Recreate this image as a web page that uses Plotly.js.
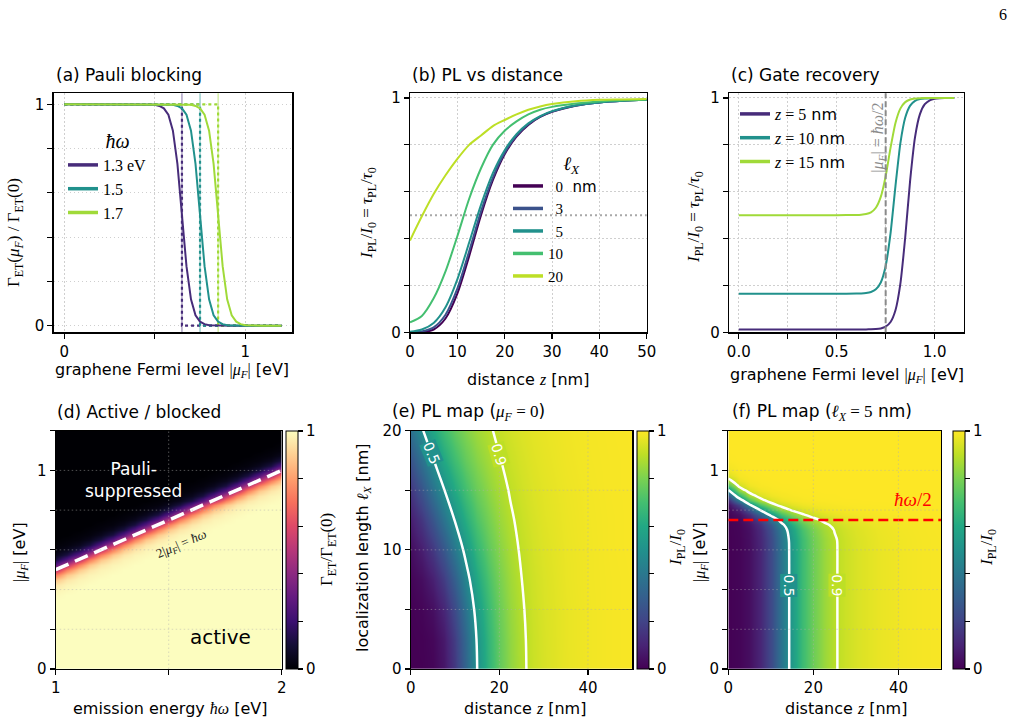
<!DOCTYPE html>
<html><head><meta charset="utf-8">
<script src="https://cdn.plot.ly/plotly-3.0.1.min.js"></script>
<style>html,body{margin:0;padding:0;background:#fff}#chart{width:1015px;height:724px}</style>
</head><body><div id="chart"></div>
<script>
// ================= DATA =================
// (a) Pauli blocking: Gamma_ET(mu_F)/Gamma_ET(0)
const hwA = [1.3, 1.5, 1.7];
const hwLabelsA = ['1.3 eV', '1.5', '1.7'];
const muA = [0, 0.1, 0.2, 0.3, 0.4, 0.45, 0.5, 0.525, 0.55, 0.575, 0.6, 0.625, 0.65, 0.675, 0.7, 0.725, 0.75, 0.775, 0.8, 0.825, 0.85, 0.875, 0.9, 0.925, 0.95, 0.975, 1.0, 1.05, 1.1, 1.2];
const gamma13 = [1,1,1,1,1,1,0.998,0.993,0.982,0.953,0.881,0.731,0.5,0.269,0.119,0.047,0.018,0.007,0.002,0.001,0,0,0,0,0,0,0,0,0,0];
const gamma15 = [1,1,1,1,1,1,1,1,1,0.999,0.998,0.993,0.982,0.953,0.881,0.731,0.5,0.269,0.119,0.047,0.018,0.007,0.002,0.001,0,0,0,0,0,0];
const gamma17 = [1,1,1,1,1,1,1,1,1,1,1,1,1,0.999,0.998,0.993,0.982,0.953,0.881,0.731,0.5,0.269,0.119,0.047,0.018,0.007,0.002,0,0,0];

// (b) PL vs distance for several localization lengths
const zB = [0, 2.5, 5, 7.5, 10, 12.5, 15, 17.5, 20, 22.5, 25, 27.5, 30, 35, 40, 45, 50];
const lxB = ['0', '3', '5', '10', '20'];
const plB_0  = [0, 0.001, 0.012, 0.059, 0.165, 0.325, 0.5, 0.649, 0.76, 0.835, 0.885, 0.919, 0.941, 0.967, 0.981, 0.988, 0.992];
const plB_3  = [0, 0.004, 0.021, 0.075, 0.186, 0.346, 0.516, 0.66, 0.766, 0.839, 0.888, 0.92, 0.942, 0.968, 0.981, 0.988, 0.992];
const plB_5  = [0.002, 0.012, 0.04, 0.107, 0.226, 0.383, 0.544, 0.679, 0.777, 0.846, 0.892, 0.923, 0.944, 0.968, 0.981, 0.988, 0.992];
const plB_10 = [0.043, 0.07, 0.145, 0.26, 0.41, 0.57, 0.7, 0.8, 0.86, 0.9, 0.93, 0.95, 0.962, 0.976, 0.985, 0.99, 0.993];
const plB_20 = [0.392, 0.495, 0.59, 0.67, 0.74, 0.8, 0.84, 0.88, 0.906, 0.93, 0.95, 0.964, 0.974, 0.986, 0.992, 0.994, 0.996];
const halfLevelB = 0.5;

// (c) Gate recovery
const zC = [5, 10, 15];
const muC = [0, 0.1, 0.2, 0.3, 0.4, 0.5, 0.6, 0.625, 0.65, 0.675, 0.7, 0.725, 0.75, 0.775, 0.8, 0.825, 0.85, 0.875, 0.9, 0.925, 0.95, 0.975, 1.0, 1.025, 1.05, 1.1];
const plC_5  = [0.0122,0.0122,0.0122,0.0122,0.0122,0.0122,0.0122,0.0123,0.0124,0.0128,0.0138,0.0166,0.0241,0.0439,0.094,0.2066,0.4068,0.6486,0.8333,0.9313,0.9736,0.9901,0.9963,0.9986,0.9995,1.0];
const plC_10 = [0.1649,0.1649,0.1649,0.1649,0.1649,0.1649,0.1653,0.1659,0.1675,0.1718,0.1832,0.2127,0.2832,0.4234,0.6241,0.8065,0.9165,0.9672,0.9877,0.9954,0.9983,0.9994,0.9998,0.9999,1.0,1.0];
const plC_15 = [0.5,0.5,0.5,0.5,0.5,0.5,0.5006,0.5017,0.5045,0.5121,0.5316,0.5777,0.6667,0.788,0.8937,0.9547,0.9823,0.9934,0.9975,0.9991,0.9997,0.9999,1.0,1.0,1.0,1.0];
const hwC = 1.5;

// (d) Active / blocked map: Gamma_ET/Gamma_ET(0) vs hbar*omega (cols) and |mu_F| (rows)
const hwD = [1,1.05,1.1,1.15,1.2,1.25,1.3,1.35,1.4,1.45,1.5,1.55,1.6,1.65,1.7,1.75,1.8,1.85,1.9,1.95,2];
const muD = [0,0.025,0.05,0.075,0.1,0.125,0.15,0.175,0.2,0.225,0.25,0.275,0.3,0.325,0.35,0.375,0.4,0.425,0.45,0.475,0.5,0.525,0.55,0.575,0.6,0.625,0.65,0.675,0.7,0.725,0.75,0.775,0.8,0.825,0.85,0.875,0.9,0.925,0.95,0.975,1,1.025,1.05,1.075,1.1,1.125,1.15,1.175,1.2];
const gammaD = [
[1,1,1,1,1,1,1,1,1,1,1,1,1,1,1,1,1,1,1,1,1],
[1,1,1,1,1,1,1,1,1,1,1,1,1,1,1,1,1,1,1,1,1],
[1,1,1,1,1,1,1,1,1,1,1,1,1,1,1,1,1,1,1,1,1],
[1,1,1,1,1,1,1,1,1,1,1,1,1,1,1,1,1,1,1,1,1],
[1,1,1,1,1,1,1,1,1,1,1,1,1,1,1,1,1,1,1,1,1],
[1,1,1,1,1,1,1,1,1,1,1,1,1,1,1,1,1,1,1,1,1],
[1,1,1,1,1,1,1,1,1,1,1,1,1,1,1,1,1,1,1,1,1],
[1,1,1,1,1,1,1,1,1,1,1,1,1,1,1,1,1,1,1,1,1],
[1,1,1,1,1,1,1,1,1,1,1,1,1,1,1,1,1,1,1,1,1],
[1,1,1,1,1,1,1,1,1,1,1,1,1,1,1,1,1,1,1,1,1],
[1,1,1,1,1,1,1,1,1,1,1,1,1,1,1,1,1,1,1,1,1],
[1,1,1,1,1,1,1,1,1,1,1,1,1,1,1,1,1,1,1,1,1],
[1,1,1,1,1,1,1,1,1,1,1,1,1,1,1,1,1,1,1,1,1],
[1,1,1,1,1,1,1,1,1,1,1,1,1,1,1,1,1,1,1,1,1],
[1,1,1,1,1,1,1,1,1,1,1,1,1,1,1,1,1,1,1,1,1],
[0.99,1,1,1,1,1,1,1,1,1,1,1,1,1,1,1,1,1,1,1,1],
[0.98,0.99,1,1,1,1,1,1,1,1,1,1,1,1,1,1,1,1,1,1,1],
[0.95,0.98,0.99,1,1,1,1,1,1,1,1,1,1,1,1,1,1,1,1,1,1],
[0.88,0.95,0.98,0.99,1,1,1,1,1,1,1,1,1,1,1,1,1,1,1,1,1],
[0.73,0.88,0.95,0.98,0.99,1,1,1,1,1,1,1,1,1,1,1,1,1,1,1,1],
[0.5,0.73,0.88,0.95,0.98,0.99,1,1,1,1,1,1,1,1,1,1,1,1,1,1,1],
[0.27,0.5,0.73,0.88,0.95,0.98,0.99,1,1,1,1,1,1,1,1,1,1,1,1,1,1],
[0.12,0.27,0.5,0.73,0.88,0.95,0.98,0.99,1,1,1,1,1,1,1,1,1,1,1,1,1],
[0.05,0.12,0.27,0.5,0.73,0.88,0.95,0.98,0.99,1,1,1,1,1,1,1,1,1,1,1,1],
[0.02,0.05,0.12,0.27,0.5,0.73,0.88,0.95,0.98,0.99,1,1,1,1,1,1,1,1,1,1,1],
[0.01,0.02,0.05,0.12,0.27,0.5,0.73,0.88,0.95,0.98,0.99,1,1,1,1,1,1,1,1,1,1],
[0,0.01,0.02,0.05,0.12,0.27,0.5,0.73,0.88,0.95,0.98,0.99,1,1,1,1,1,1,1,1,1],
[0,0,0.01,0.02,0.05,0.12,0.27,0.5,0.73,0.88,0.95,0.98,0.99,1,1,1,1,1,1,1,1],
[0,0,0,0.01,0.02,0.05,0.12,0.27,0.5,0.73,0.88,0.95,0.98,0.99,1,1,1,1,1,1,1],
[0,0,0,0,0.01,0.02,0.05,0.12,0.27,0.5,0.73,0.88,0.95,0.98,0.99,1,1,1,1,1,1],
[0,0,0,0,0,0.01,0.02,0.05,0.12,0.27,0.5,0.73,0.88,0.95,0.98,0.99,1,1,1,1,1],
[0,0,0,0,0,0,0.01,0.02,0.05,0.12,0.27,0.5,0.73,0.88,0.95,0.98,0.99,1,1,1,1],
[0,0,0,0,0,0,0,0.01,0.02,0.05,0.12,0.27,0.5,0.73,0.88,0.95,0.98,0.99,1,1,1],
[0,0,0,0,0,0,0,0,0.01,0.02,0.05,0.12,0.27,0.5,0.73,0.88,0.95,0.98,0.99,1,1],
[0,0,0,0,0,0,0,0,0,0.01,0.02,0.05,0.12,0.27,0.5,0.73,0.88,0.95,0.98,0.99,1],
[0,0,0,0,0,0,0,0,0,0,0.01,0.02,0.05,0.12,0.27,0.5,0.73,0.88,0.95,0.98,0.99],
[0,0,0,0,0,0,0,0,0,0,0,0.01,0.02,0.05,0.12,0.27,0.5,0.73,0.88,0.95,0.98],
[0,0,0,0,0,0,0,0,0,0,0,0,0.01,0.02,0.05,0.12,0.27,0.5,0.73,0.88,0.95],
[0,0,0,0,0,0,0,0,0,0,0,0,0,0.01,0.02,0.05,0.12,0.27,0.5,0.73,0.88],
[0,0,0,0,0,0,0,0,0,0,0,0,0,0,0.01,0.02,0.05,0.12,0.27,0.5,0.73],
[0,0,0,0,0,0,0,0,0,0,0,0,0,0,0,0.01,0.02,0.05,0.12,0.27,0.5],
[0,0,0,0,0,0,0,0,0,0,0,0,0,0,0,0,0.01,0.02,0.05,0.12,0.27],
[0,0,0,0,0,0,0,0,0,0,0,0,0,0,0,0,0,0.01,0.02,0.05,0.12],
[0,0,0,0,0,0,0,0,0,0,0,0,0,0,0,0,0,0,0.01,0.02,0.05],
[0,0,0,0,0,0,0,0,0,0,0,0,0,0,0,0,0,0,0,0.01,0.02],
[0,0,0,0,0,0,0,0,0,0,0,0,0,0,0,0,0,0,0,0,0.01],
[0,0,0,0,0,0,0,0,0,0,0,0,0,0,0,0,0,0,0,0,0],
[0,0,0,0,0,0,0,0,0,0,0,0,0,0,0,0,0,0,0,0,0],
[0,0,0,0,0,0,0,0,0,0,0,0,0,0,0,0,0,0,0,0,0]
];
const hwLineD = [1, 2];
const muLineD = [0.5, 1.0];

// (e) PL map at mu_F = 0: I_PL/I_0 vs distance z (cols) and l_X (rows)
const zE = [0, 2.5, 5, 7.5, 10, 12.5, 15, 17.5, 20, 22.5, 25, 27.5, 30, 35, 40, 45, 50];
const lxE = [0, 2.5, 5, 7.5, 10, 12.5, 15, 17.5, 20];
const plE = [
[0, 0.001, 0.012, 0.059, 0.165, 0.325, 0.5, 0.649, 0.76, 0.835, 0.885, 0.919, 0.941, 0.967, 0.981, 0.988, 0.992],
[0, 0.003, 0.018, 0.069, 0.179, 0.34, 0.511, 0.657, 0.764, 0.838, 0.887, 0.92, 0.942, 0.968, 0.981, 0.988, 0.992],
[0.002, 0.012, 0.04, 0.107, 0.226, 0.383, 0.544, 0.679, 0.777, 0.846, 0.892, 0.923, 0.944, 0.968, 0.981, 0.988, 0.992],
[0.012, 0.036, 0.087, 0.175, 0.303, 0.453, 0.596, 0.712, 0.798, 0.858, 0.899, 0.927, 0.946, 0.97, 0.982, 0.988, 0.992],
[0.036, 0.084, 0.162, 0.27, 0.401, 0.536, 0.657, 0.753, 0.823, 0.874, 0.909, 0.933, 0.95, 0.971, 0.982, 0.989, 0.993],
[0.083, 0.158, 0.262, 0.382, 0.506, 0.621, 0.718, 0.793, 0.85, 0.89, 0.919, 0.94, 0.955, 0.973, 0.983, 0.989, 0.993],
[0.158, 0.258, 0.376, 0.494, 0.603, 0.697, 0.772, 0.831, 0.874, 0.906, 0.93, 0.947, 0.959, 0.975, 0.984, 0.99, 0.993],
[0.258, 0.372, 0.49, 0.597, 0.687, 0.761, 0.818, 0.863, 0.896, 0.921, 0.94, 0.954, 0.964, 0.978, 0.986, 0.99, 0.993],
[0.372, 0.486, 0.593, 0.683, 0.755, 0.812, 0.856, 0.889, 0.915, 0.934, 0.949, 0.96, 0.968, 0.98, 0.987, 0.991, 0.994]
];

// (f) PL map at l_X = 5 nm: I_PL/I_0 vs distance z (cols) and |mu_F| (rows)
const zF = [0, 2.5, 5, 7.5, 10, 12.5, 15, 17.5, 20, 22.5, 25, 27.5, 30, 35, 40, 45, 50];
const muF = [0, 0.2, 0.4, 0.5, 0.6, 0.65, 0.7, 0.725, 0.75, 0.775, 0.8, 0.825, 0.85, 0.875, 0.9, 0.925, 0.95, 0.975, 1.0, 1.05, 1.1, 1.2];
const plF = [
[0.002, 0.012, 0.04, 0.107, 0.226, 0.383, 0.544, 0.679, 0.777, 0.846, 0.892, 0.923, 0.944, 0.968, 0.981, 0.988, 0.992],
[0.002, 0.012, 0.04, 0.107, 0.226, 0.383, 0.544, 0.679, 0.777, 0.846, 0.892, 0.923, 0.944, 0.968, 0.981, 0.988, 0.992],
[0.002, 0.012, 0.04, 0.107, 0.226, 0.383, 0.544, 0.679, 0.777, 0.846, 0.892, 0.923, 0.944, 0.968, 0.981, 0.988, 0.992],
[0.002, 0.012, 0.04, 0.107, 0.226, 0.383, 0.544, 0.679, 0.777, 0.846, 0.892, 0.923, 0.944, 0.968, 0.981, 0.988, 0.992],
[0.002, 0.012, 0.04, 0.107, 0.227, 0.384, 0.545, 0.68, 0.778, 0.846, 0.892, 0.923, 0.944, 0.968, 0.981, 0.988, 0.992],
[0.002, 0.012, 0.041, 0.109, 0.229, 0.388, 0.549, 0.683, 0.781, 0.848, 0.893, 0.924, 0.945, 0.969, 0.981, 0.988, 0.992],
[0.003, 0.014, 0.045, 0.12, 0.249, 0.414, 0.576, 0.706, 0.799, 0.862, 0.903, 0.931, 0.95, 0.972, 0.983, 0.989, 0.993],
[0.003, 0.016, 0.054, 0.141, 0.285, 0.46, 0.621, 0.743, 0.827, 0.882, 0.918, 0.942, 0.958, 0.977, 0.986, 0.991, 0.994],
[0.005, 0.024, 0.077, 0.193, 0.368, 0.554, 0.705, 0.809, 0.875, 0.916, 0.943, 0.96, 0.971, 0.984, 0.99, 0.994, 0.996],
[0.009, 0.043, 0.135, 0.308, 0.52, 0.698, 0.816, 0.887, 0.929, 0.953, 0.968, 0.978, 0.984, 0.991, 0.995, 0.997, 0.998],
[0.019, 0.092, 0.26, 0.501, 0.71, 0.839, 0.909, 0.947, 0.967, 0.979, 0.986, 0.99, 0.993, 0.996, 0.998, 0.999, 0.999],
[0.047, 0.203, 0.469, 0.716, 0.86, 0.929, 0.962, 0.978, 0.987, 0.991, 0.994, 0.996, 0.997, 0.998, 0.999, 0.999, 1],
[0.114, 0.401, 0.699, 0.869, 0.942, 0.972, 0.985, 0.992, 0.995, 0.997, 0.998, 0.999, 0.999, 1, 1, 1, 1],
[0.257, 0.643, 0.862, 0.947, 0.978, 0.989, 0.994, 0.997, 0.998, 0.999, 0.999, 1, 1, 1, 1, 1, 1],
[0.483, 0.83, 0.944, 0.98, 0.992, 0.996, 0.998, 0.999, 0.999, 1, 1, 1, 1, 1, 1, 1, 1],
[0.717, 0.93, 0.979, 0.993, 0.997, 0.999, 0.999, 1, 1, 1, 1, 1, 1, 1, 1, 1, 1],
[0.873, 0.973, 0.992, 0.997, 0.999, 1, 1, 1, 1, 1, 1, 1, 1, 1, 1, 1, 1],
[0.95, 0.99, 0.997, 0.999, 1, 1, 1, 1, 1, 1, 1, 1, 1, 1, 1, 1, 1],
[0.981, 0.996, 0.999, 1, 1, 1, 1, 1, 1, 1, 1, 1, 1, 1, 1, 1, 1],
[0.997, 1, 1, 1, 1, 1, 1, 1, 1, 1, 1, 1, 1, 1, 1, 1, 1],
[1, 1, 1, 1, 1, 1, 1, 1, 1, 1, 1, 1, 1, 1, 1, 1, 1],
[1, 1, 1, 1, 1, 1, 1, 1, 1, 1, 1, 1, 1, 1, 1, 1, 1]
];
const hwF = 1.5;
const contourLevels = [0.5, 0.9];
// where the contour labels sit: [z, y, angle]
const labelPosE = [[4.65, 18.1, 68], [20.0, 18.0, 74]];
const labelPosF = [[14.3, 0.42, 90], [25.65, 0.42, 90]];

// tick values (labelled major ticks, unlabelled minor ticks)
const ticksA_x = [0, 1], minorA_x = [0.5];
const ticksUnit = [0, 1], minorUnit = [0.2, 0.4, 0.6, 0.8];
const ticksB_x = [0, 10, 20, 30, 40, 50];
const ticksC_x = [0, 0.5, 1], ticksC_xt = ['0.0', '0.5', '1.0'], minorC_x = [0.25, 0.75];
const ticksD_x = [1, 2], minorD_x = [1.5];
const ticksMu = [0, 1], minorMu = [0.2, 0.4, 0.6, 0.8, 1.2];
const ticksE_y = [0, 10, 20], minorE_y = [5, 15];
const ticksZ = [0, 20, 40];
const cbTicks = [0, 0.2, 0.4, 0.6, 0.8, 1], cbTickText = ['0', '', '', '', '', '1'];

// ================= STYLE / LAYOUT =================
const W = 1015, H = 724;
const SANS = 'DejaVu Sans, Arial, sans-serif';
const SERIF = 'Liberation Serif';
const m = s => `<span style="font-family:${SERIF}">${s}</span>`;
const colA = ['#472c7a', '#21918c', '#a0da39'];
const colB = ['#440154', '#3b528b', '#21918c', '#44bf70', '#bddf26'];
const GRID = '#cfcfcf';
const GDASH = '1.5px,2.5px';
const GRIDOVER = 'rgba(175,175,175,0.45)';
const magma = [[0,'#000004'],[0.1,'#140e36'],[0.2,'#3b0f70'],[0.3,'#641a80'],[0.4,'#8c2981'],[0.5,'#b73779'],[0.6,'#de4968'],[0.7,'#f7705c'],[0.8,'#fe9f6d'],[0.9,'#fecf92'],[1,'#fcfdbf']];
const viridis = [[0,'#440154'],[0.1,'#482475'],[0.2,'#414487'],[0.3,'#355f8d'],[0.4,'#2a788e'],[0.5,'#21918c'],[0.6,'#22a884'],[0.7,'#44bf70'],[0.8,'#7ad151'],[0.9,'#bddf26'],[1,'#fde725']];
const labelBg = { '0.5': '#21918c', '0.9': '#bddf26' };

function axis(p0, p1, range, tickvals, ticktext, minorvals, anchor, grid, horizontal) {
  const dom = horizontal ? [p0 / W, p1 / W] : [1 - p1 / H, 1 - p0 / H];
  const a = {
    domain: dom, range: range, anchor: anchor, tickmode: 'array', tickvals: tickvals,
    ticktext: ticktext || tickvals.map(String),
    showline: true, mirror: true, linecolor: '#000', linewidth: 1.2,
    ticks: 'outside', ticklen: 5, tickwidth: 1.2, tickcolor: '#000',
    showgrid: grid, gridcolor: GRID, griddash: GDASH, gridwidth: 1,
    zeroline: false, fixedrange: true,
    tickfont: { family: SANS, size: 15, color: '#000' }
  };
  if (minorvals && minorvals.length) {
    a.minor = { tickmode: 'array', tickvals: minorvals, ticks: 'outside', ticklen: 5, tickwidth: 1.2, tickcolor: '#000',
      showgrid: grid, gridcolor: GRID, griddash: GDASH, gridwidth: 1 };
  }
  return a;
}

const traces = [];
const shapes = [];
const annotations = [];

// ---- (a) ----
const gammasA = [gamma13, gamma15, gamma17];
hwA.forEach((hw, i) => {
  const c = hw / 2;
  shapes.push({ type: 'line', xref: 'x', yref: 'y domain', x0: c, x1: c, y0: 0, y1: 1,
    line: { color: colA[i], width: 1.2 }, opacity: 0.55, layer: 'below' });
  traces.push({ x: [muA[0], c, c, muA[muA.length - 1]], y: [1, 1, 0, 0], xaxis: 'x', yaxis: 'y',
    mode: 'lines', line: { color: colA[i], width: 2.2, dash: 'dot' }, showlegend: false, hoverinfo: 'skip' });
});
hwA.forEach((hw, i) => {
  traces.push({ x: muA, y: gammasA[i], xaxis: 'x', yaxis: 'y', mode: 'lines',
    line: { color: colA[i], width: 2 }, showlegend: false, hoverinfo: 'skip' });
});
hwA.forEach((hw, i) => {
  traces.push({ x: [null], y: [null], xaxis: 'x', yaxis: 'y', mode: 'lines', name: m(hwLabelsA[i]),
    line: { color: colA[i], width: 3.5 }, legend: 'legend', showlegend: true });
});

// ---- (b) ----
const plBs = [plB_0, plB_3, plB_5, plB_10, plB_20];
shapes.push({ type: 'line', xref: 'x2 domain', yref: 'y2', x0: 0, x1: 1, y0: halfLevelB, y1: halfLevelB,
  line: { color: '#a8a8a8', width: 2, dash: '2px,3px' }, layer: 'below' });
plBs.forEach((arr, i) => {
  traces.push({ x: zB, y: arr, xaxis: 'x2', yaxis: 'y2', mode: 'lines', line: { color: colB[i], width: 2, shape: 'spline', smoothing: 0.8 },
    showlegend: false, hoverinfo: 'skip' });
});
const lxNames = [m('\u00a0\u00a00') + '\u00a0\u00a0nm', m('\u00a0\u00a03'), m('\u00a0\u00a05'), m('10'), m('20')];
lxB.forEach((l, i) => {
  traces.push({ x: [null], y: [null], xaxis: 'x2', yaxis: 'y2', mode: 'lines', name: lxNames[i],
    line: { color: colB[i], width: 3.5 }, legend: 'legend2', showlegend: true });
});

// ---- (c) ----
const plCs = [plC_5, plC_10, plC_15];
plCs.forEach((arr, i) => {
  traces.push({ x: muC, y: arr, xaxis: 'x3', yaxis: 'y3', mode: 'lines', line: { color: colA[i], width: 2, shape: 'spline', smoothing: 0.5 },
    showlegend: false, hoverinfo: 'skip' });
});
shapes.push({ type: 'line', xref: 'x3', yref: 'y3 domain', x0: hwC / 2, x1: hwC / 2, y0: 0, y1: 1,
  line: { color: '#8a8a8a', width: 2, dash: '6px,3px' }, layer: 'above' });
zC.forEach((z, i) => {
  traces.push({ x: [null], y: [null], xaxis: 'x3', yaxis: 'y3', mode: 'lines', name: m('<i>z</i> = ' + z) + ' nm',
    line: { color: colA[i], width: 3.5 }, legend: 'legend3', showlegend: true });
});
annotations.push({ xref: 'x3', yref: 'y3', x: 0.715, y: 0.83, text: m('|<i>μ</i><sub><i>F</i></sub>| = <i>ħω</i>/2'),
  textangle: -90, showarrow: false, font: { family: SERIF, size: 16, color: '#8a8a8a' }, xanchor: 'center', yanchor: 'middle' });

// ---- colorbar helper ----
function cbar(xpx) {
  return { x: xpx / W, xanchor: 'left', y: 1 - 669 / H, yanchor: 'bottom', len: (669 - 430.7) / H, lenmode: 'fraction',
    thickness: 12, thicknessmode: 'pixels', xpad: 0, ypad: 0, outlinewidth: 1, outlinecolor: '#000',
    tickmode: 'array', tickvals: cbTicks, ticktext: cbTickText, ticks: 'outside', ticklen: 5, tickwidth: 1.2, tickcolor: '#000',
    tickfont: { family: SANS, size: 15, color: '#000' } };
}
function contourTrace(x, y, z, xa, ya) {
  return { type: 'contour', x: x, y: y, z: z, xaxis: xa, yaxis: ya, autocontour: false,
    contours: { start: contourLevels[0], end: contourLevels[1], size: contourLevels[1] - contourLevels[0], coloring: 'none', showlabels: false },
    line: { color: '#ffffff', width: 2.5, smoothing: 1 }, showscale: false, showlegend: false, hoverinfo: 'skip' };
}
function contourLabels(xa, ya, pos) {
  pos.forEach((p, i) => {
    const t = String(contourLevels[i]);
    annotations.push({ xref: xa, yref: ya, x: p[0], y: p[1], text: t, textangle: p[2], showarrow: false,
      font: { family: SANS, size: 14, color: '#ffffff' }, bgcolor: labelBg[t], borderpad: 0, xanchor: 'center', yanchor: 'middle' });
  });
}

// ---- (d) ----
traces.push({ type: 'heatmap', x: hwD, y: muD, z: gammaD, xaxis: 'x4', yaxis: 'y4', colorscale: magma, zmin: 0, zmax: 1,
  zsmooth: 'best', colorbar: cbar(285.7), hoverinfo: 'skip', showlegend: false });
traces.push({ x: hwLineD, y: muLineD, xaxis: 'x4', yaxis: 'y4', mode: 'lines', line: { color: '#ffffff', width: 3.5, dash: '14px,7px' },
  showlegend: false, hoverinfo: 'skip' });
annotations.push({ xref: 'x4', yref: 'y4', x: 1.343, y: 0.952, text: 'Pauli-<br>suppressed', showarrow: false,
  font: { family: SANS, size: 17, color: '#ffffff' }, align: 'center', xanchor: 'center', yanchor: 'middle' });
annotations.push({ xref: 'x4', yref: 'y4', x: 1.727, y: 0.163, text: 'active', showarrow: false,
  font: { family: SANS, size: 20, color: '#000' }, xanchor: 'center', yanchor: 'middle' });
annotations.push({ xref: 'x4', yref: 'y4', x: 1.557, y: 0.626, text: m('2|<i>μ</i><sub><i>F</i></sub>| = <i>ħω</i>'), textangle: -23.6,
  showarrow: false, font: { family: SERIF, size: 13, color: '#222' }, xanchor: 'center', yanchor: 'middle' });

// ---- (e) ----
traces.push({ type: 'heatmap', x: zE, y: lxE, z: plE, xaxis: 'x5', yaxis: 'y5', colorscale: viridis, zmin: 0, zmax: 1,
  zsmooth: 'best', colorbar: cbar(636.7), hoverinfo: 'skip', showlegend: false });
traces.push(contourTrace(zE, lxE, plE, 'x5', 'y5'));
contourLabels('x5', 'y5', labelPosE);

// ---- (f) ----
traces.push({ type: 'heatmap', x: zF, y: muF, z: plF, xaxis: 'x6', yaxis: 'y6', colorscale: viridis, zmin: 0, zmax: 1,
  zsmooth: 'best', colorbar: cbar(953.3), hoverinfo: 'skip', showlegend: false });
traces.push(contourTrace(zF, muF, plF, 'x6', 'y6'));
contourLabels('x6', 'y6', labelPosF);
traces.push({ x: [zF[0], zF[zF.length - 1]], y: [hwF / 2, hwF / 2], xaxis: 'x6', yaxis: 'y6', mode: 'lines',
  line: { color: '#ff0000', width: 2.5, dash: '10px,5px' }, showlegend: false, hoverinfo: 'skip' });
annotations.push({ xref: 'x6', yref: 'y6', x: 43.5, y: 0.855, text: m('<i>ħω</i>/2'), showarrow: false,
  font: { family: SERIF, size: 19, color: '#ff0000' }, xanchor: 'center', yanchor: 'middle' });

// grid over heatmaps (at the tick positions)
function gridOver(xa, ya, xv, yv) {
  xv.forEach(v => shapes.push({ type: 'line', xref: xa, yref: ya + ' domain', x0: v, x1: v, y0: 0, y1: 1,
    line: { color: GRIDOVER, width: 1, dash: GDASH }, layer: 'above' }));
  yv.forEach(v => shapes.push({ type: 'line', xref: xa + ' domain', yref: ya, x0: 0, x1: 1, y0: v, y1: v,
    line: { color: GRIDOVER, width: 1, dash: GDASH }, layer: 'above' }));
}
gridOver('x4', 'y4', minorD_x, minorMu.slice(0, 4).concat([ticksMu[1]]));
gridOver('x5', 'y5', ticksZ.slice(1), [minorE_y[0], ticksE_y[1], minorE_y[1]]);
gridOver('x6', 'y6', ticksZ.slice(1), minorMu.slice(0, 4).concat([ticksMu[1]]));

// ---- text labels ----
function lab(text, xp, yp, size, opts) {
  return Object.assign({ text: text, xref: 'paper', yref: 'paper', x: xp / W, y: 1 - yp / H, xanchor: 'center', yanchor: 'middle',
    showarrow: false, font: { family: SANS, size: size, color: '#000' } }, opts || {});
}
const fermiLabel = 'graphene Fermi level ' + m('|<i>μ</i><sub><i>F</i></sub>|') + ' [eV]';
const plLabel = m('<i>I</i><sub>PL</sub>/<i>I</i><sub>0</sub> = <i>τ</i><sub>PL</sub>/<i>τ</i><sub>0</sub>');
const distLabel = 'distance ' + m('<i>z</i>') + ' [nm]';
const muLabel = m('|<i>μ</i><sub><i>F</i></sub>|') + ' [eV]';
const ipl = m('<i>I</i><sub>PL</sub>/<i>I</i><sub>0</sub>');
annotations.push(
  lab('(a) Pauli blocking', 54, 75, 17, { xanchor: 'left' }),
  lab('(b) PL vs distance', 410, 75, 17, { xanchor: 'left' }),
  lab('(c) Gate recovery', 729, 75, 17, { xanchor: 'left' }),
  lab('(d) Active / blocked', 55, 412, 17, { xanchor: 'left' }),
  lab('(e) PL map (' + m('<i>μ</i><sub><i>F</i></sub> = 0') + ')', 390, 412, 17, { xanchor: 'left' }),
  lab('(f) PL map (' + m('<i>ℓ</i><sub><i>X</i></sub> = 5') + ' nm)', 730, 412, 17, { xanchor: 'left' }),
  lab(fermiLabel, 172, 370, 16),
  lab(m('Γ<sub>ET</sub>(<i>μ</i><sub><i>F</i></sub>) / Γ<sub>ET</sub>(0)'), 15, 233, 17, { textangle: -90 }),
  lab(distLabel, 528, 379, 16),
  lab(plLabel, 368, 213, 17, { textangle: -90 }),
  lab(fermiLabel, 847, 375, 16),
  lab(plLabel, 695, 217, 17, { textangle: -90 }),
  lab('emission energy ' + m('<i>ħω</i>') + ' [eV]', 170, 708, 16),
  lab(muLabel, 20, 552, 16, { textangle: -90 }),
  lab(m('Γ<sub>ET</sub>/Γ<sub>ET</sub>(0)'), 328, 550, 17, { textangle: -90 }),
  lab(distLabel, 525, 708, 16),
  lab('localization length ' + m('<i>ℓ</i><sub><i>X</i></sub>') + ' [nm]', 363, 548, 16, { textangle: -90 }),
  lab(ipl, 677, 548, 17, { textangle: -90 }),
  lab(distLabel, 846, 708, 16),
  lab(muLabel, 700, 552, 16, { textangle: -90 }),
  lab(ipl, 988, 548, 17, { textangle: -90 }),
  lab(m('6'), 1003, 15, 16)
);

const legendBase = { bgcolor: 'rgba(0,0,0,0)', borderwidth: 0, xanchor: 'left', yanchor: 'top', itemwidth: 30,
  font: { family: SANS, size: 15, color: '#000' }, tracegroupgap: 0, itemclick: false, itemdoubleclick: false };
const NB = '\u00a0';

const layout = {
  width: W, height: H, margin: { l: 0, r: 0, t: 0, b: 0 }, paper_bgcolor: '#fff', plot_bgcolor: '#fff',
  font: { family: SANS, size: 15, color: '#000' },
  xaxis:  axis(53.5, 292.3, [-0.06, 1.26], ticksA_x, null, minorA_x, 'y', true, true),
  yaxis:  axis(93.3, 332.3, [-0.03, 1.05], ticksUnit, null, minorUnit, 'x', true, false),
  xaxis2: axis(410, 646.7, [0, 50], ticksB_x, null, null, 'y2', true, true),
  yaxis2: axis(93.3, 332.3, [0, 1.02], ticksUnit, null, minorUnit, 'x2', true, false),
  xaxis3: axis(729, 964, [-0.05, 1.15], ticksC_x, ticksC_xt, minorC_x, 'y3', true, true),
  yaxis3: axis(93.3, 332.3, [0, 1.02], ticksUnit, null, minorUnit, 'x3', true, false),
  xaxis4: axis(55.7, 281.7, [1, 2], ticksD_x, null, minorD_x, 'y4', false, true),
  yaxis4: axis(430.7, 669, [0, 1.2], ticksMu, null, minorMu, 'x4', false, false),
  xaxis5: axis(410.7, 632.3, [0, 50], ticksZ, null, null, 'y5', false, true),
  yaxis5: axis(430.7, 669, [0, 20], ticksE_y, null, minorE_y, 'x5', false, false),
  xaxis6: axis(728.3, 941, [0, 50], ticksZ, null, null, 'y6', false, true),
  yaxis6: axis(430.7, 669, [0, 1.2], ticksMu, null, minorMu, 'x6', false, false),
  legend: Object.assign({}, legendBase, { x: 63 / W, y: 1 - 122 / H, font: { family: SERIF, size: 16, color: '#000' },
    title: { text: NB + NB + NB + NB + m('<i>ħω</i>'), side: 'top center', font: { family: SERIF, size: 20, color: '#000' } } }),
  legend2: Object.assign({}, legendBase, { x: 508 / W, y: 1 - 145 / H,
    title: { text: NB + NB + NB + NB + NB + NB + NB + m('<i>ℓ</i><sub><i>X</i></sub>'), side: 'top center', font: { family: SERIF, size: 19, color: '#000' } } }),
  legend3: Object.assign({}, legendBase, { x: 735 / W, y: 1 - 97 / H, font: { family: SANS, size: 16, color: '#000' } }),
  shapes: shapes,
  annotations: annotations,
  showlegend: true
};
['xaxis4', 'yaxis4', 'xaxis5', 'yaxis5', 'xaxis6', 'yaxis6'].forEach(k => { layout[k].layer = 'above traces'; });

Plotly.newPlot('chart', traces, layout, { staticPlot: true, displayModeBar: false });
</script>
</body></html>
